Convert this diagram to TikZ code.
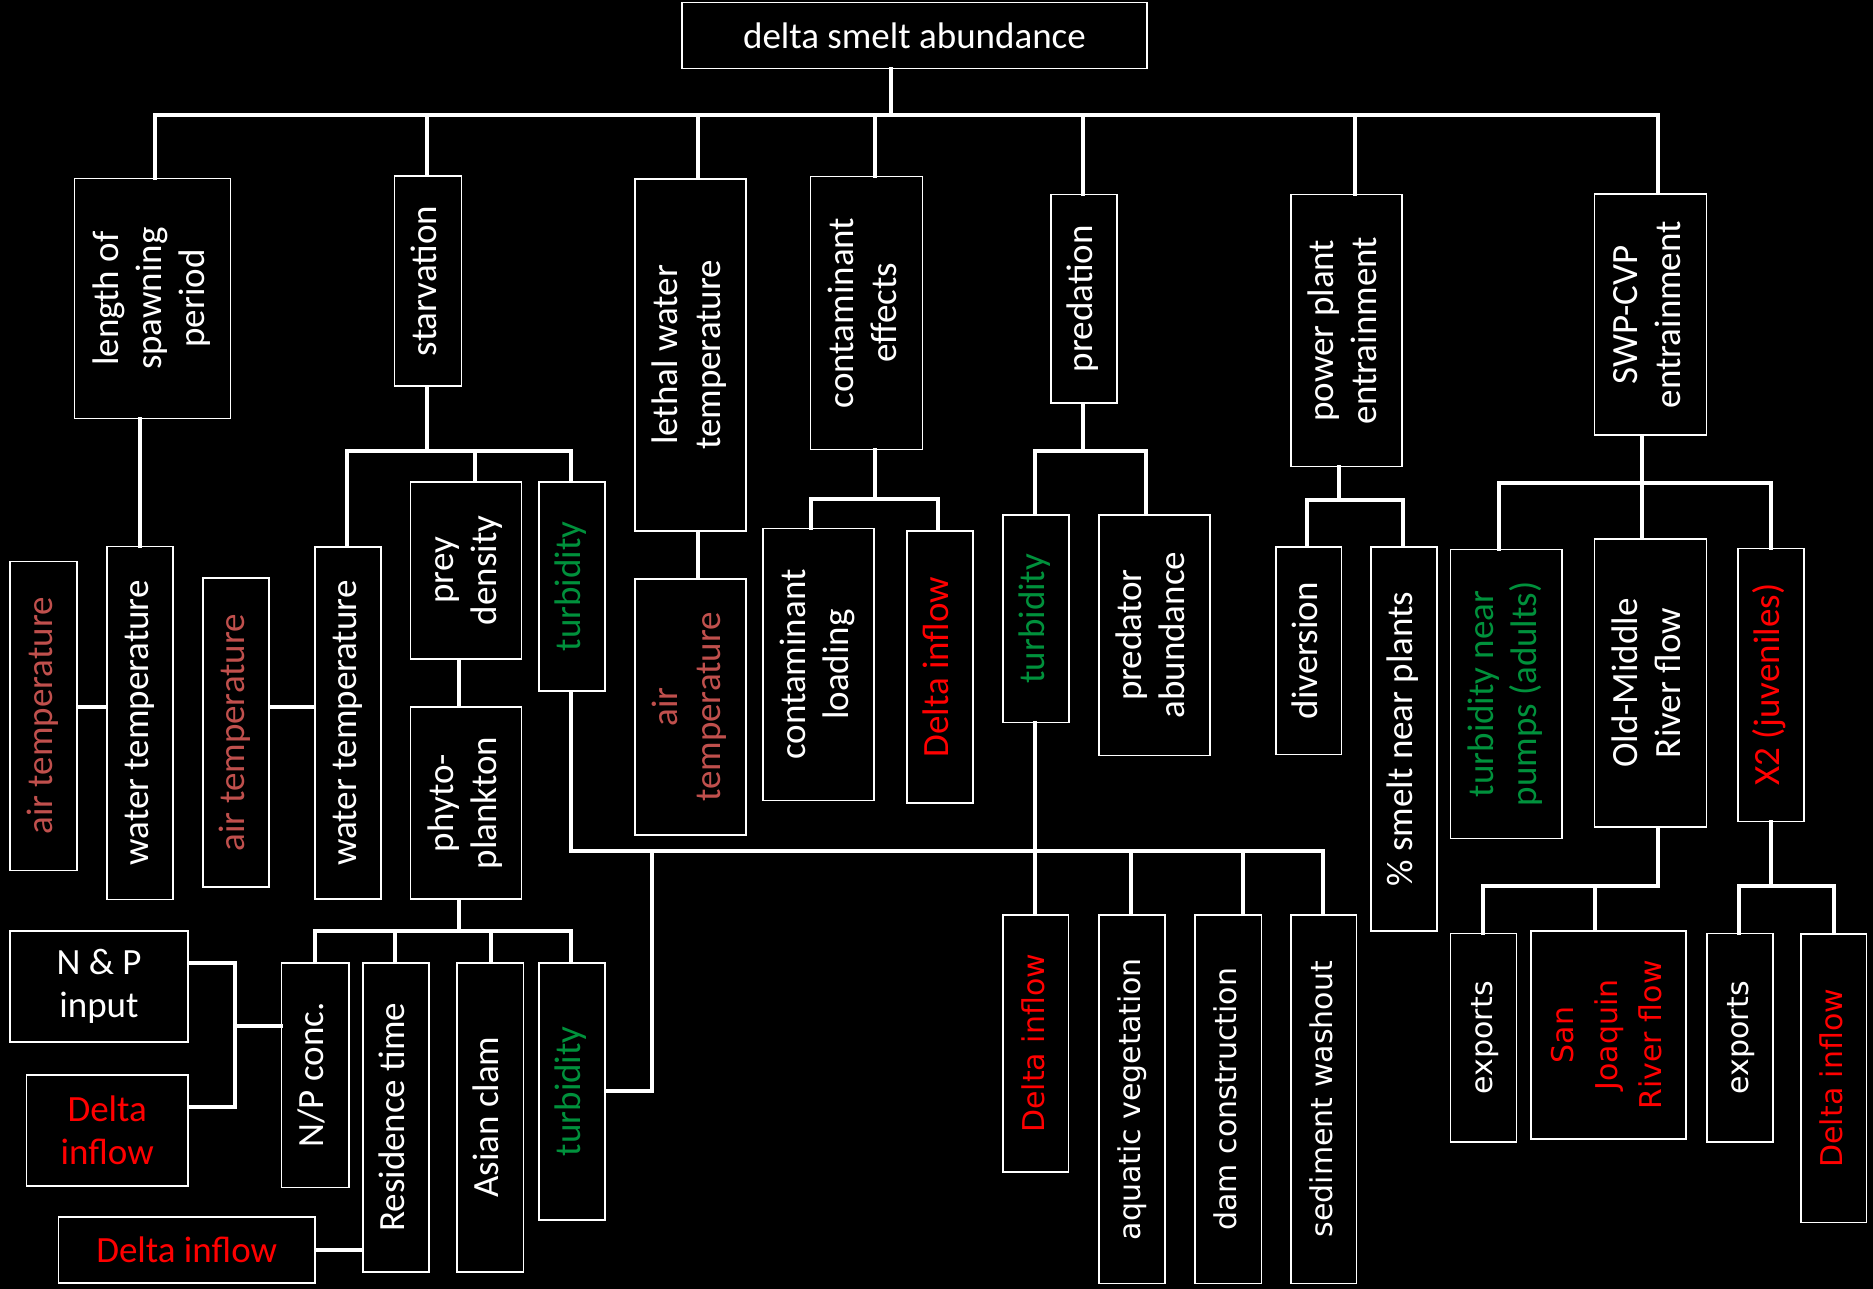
\documentclass[tikz,border=0pt]{standalone}
\usepackage{fontspec}
\usepackage{graphicx}
\setmainfont{Carlito}
\newfontfamily\dvsans{DejaVu Sans}
\definecolor{airred}{RGB}{192,80,77}
\definecolor{turbgreen}{RGB}{0,145,60}
\definecolor{flowred}{RGB}{255,0,0}
\newcommand{\vtext}[1]{\rotatebox{90}{\begin{tabular}{@{}c@{}}#1\end{tabular}}}
\tikzset{
  box/.style={draw=white, line width=1.6pt, fill=black, text=white, inner sep=0pt, align=center, font=\fontsize{37}{43}\selectfont},
  wide/.style={box, font=\dvsans\fontsize{30}{44}\selectfont},
  conn/.style={draw=white, line width=4pt, line cap=rect},
  air/.style={text=airred},
  turb/.style={text=turbgreen},
  flow/.style={text=flowred}
}
\begin{document}
\begin{tikzpicture}[x=1pt, y=-1pt]
\fill[black] (0,0) rectangle (1873,1289);

% top and first level
\node[box, minimum width=465pt, minimum height=66pt] (top) at (914.5,35.5) {delta smelt abundance};
\node[box, minimum width=156pt, minimum height=240pt] (len) at (152.5,298.6) {\vtext{length of\\spawning\\period}};
\node[box, minimum width=67pt, minimum height=210pt] (starv) at (427.8,281) {\vtext{starvation}};
\node[box, minimum width=111pt, minimum height=352pt] (lethal) at (690.4,354.9) {\vtext{lethal water\\temperature}};
\node[box, minimum width=112pt, minimum height=273pt] (contam) at (866.5,312.9) {\vtext{contaminant\\effects}};
\node[box, minimum width=66pt, minimum height=208.5pt] (pred) at (1084,298.7) {\vtext{predation}};
\node[box, minimum width=111pt, minimum height=272pt] (power) at (1346.2,330.6) {\vtext{power plant\\entrainment}};
\node[box, minimum width=112pt, minimum height=241pt] (swp) at (1650.3,314.7) {\vtext{SWP-CVP\\entrainment}};

% spawning and starvation
\node[box, minimum width=66pt, minimum height=353pt] (wt1) at (140,722.8) {\vtext{water temperature}};
\node[box, air, minimum width=67pt, minimum height=309pt] (at1) at (43.7,715.8) {\vtext{air temperature}};
\node[box, air, minimum width=66pt, minimum height=309pt] (at2) at (236,732.7) {\vtext{air temperature}};
\node[box, minimum width=66.5pt, minimum height=352pt] (wt2) at (348,723) {\vtext{water temperature}};
\node[box, minimum width=111pt, minimum height=177pt] (prey) at (466.1,570.4) {\vtext{prey\\density}};
\node[box, minimum width=111pt, minimum height=192pt] (phyto) at (466.1,803) {\vtext{phyto-\\plankton}};
\node[box, turb, minimum width=66.5pt, minimum height=208.5pt] (turb1) at (572,586.5) {\vtext{turbidity}};

% nutrients
\node[box, minimum width=177.6pt, minimum height=111.3pt] (np) at (99,986.4) {N \& P\\input};
\node[box, flow, minimum width=161.3pt, minimum height=111.3pt] (dinL) at (107.2,1130.4) {Delta\\inflow};
\node[box, flow, minimum width=256.6pt, minimum height=66pt] (dinB) at (186.7,1249.7) {Delta inflow};
\node[box, minimum width=67.4pt, minimum height=224.6pt] (npc) at (315.3,1075) {\vtext{N/P conc.}};
\node[box, minimum width=66pt, minimum height=309pt] (rest) at (396,1117.2) {\vtext{Residence time}};
\node[box, minimum width=66.6pt, minimum height=309pt] (clam) at (490,1117.2) {\vtext{Asian clam}};
\node[box, turb, minimum width=66.5pt, minimum height=257pt] (turb3) at (572,1091.2) {\vtext{turbidity}};

% lethal, contaminant, predation
\node[box, air, minimum width=111pt, minimum height=256pt] (airL) at (690.4,706.9) {\vtext{air\\temperature}};
\node[box, minimum width=111pt, minimum height=272pt] (cload) at (818.4,664.6) {\vtext{contaminant\\loading}};
\node[box, flow, minimum width=66.5pt, minimum height=272pt] (dinC) at (940,667.1) {\vtext{Delta inflow}};
\node[box, turb, minimum width=66.5pt, minimum height=207.5pt] (turb2) at (1036,618.7) {\vtext{turbidity}};
\node[box, minimum width=111pt, minimum height=240.6pt] (predab) at (1154.4,635.2) {\vtext{predator\\abundance}};
\node[wide, flow, minimum width=65.5pt, minimum height=256.7pt] (dinP) at (1035.8,1043.4) {\vtext{Delta inflow}};
\node[wide, minimum width=66pt, minimum height=368.3pt] (aqv) at (1131.9,1099.2) {\vtext{aquatic vegetation}};
\node[wide, minimum width=66.6pt, minimum height=368.3pt] (dam) at (1228,1099.2) {\vtext{dam construction}};
\node[wide, minimum width=65.5pt, minimum height=368.3pt] (sed) at (1323.8,1099.2) {\vtext{sediment washout}};

% entrainment
\node[box, minimum width=65.6pt, minimum height=207.6pt] (div) at (1308.5,650.8) {\vtext{diversion}};
\node[box, minimum width=66pt, minimum height=384pt] (psmelt) at (1403.9,739) {\vtext{\% smelt near plants}};
\node[box, turb, minimum width=111.5pt, minimum height=289pt] (turbp) at (1506.4,693.8) {\vtext{turbidity near\\pumps (adults)}};
\node[box, minimum width=112pt, minimum height=288pt] (omr) at (1650.3,683) {\vtext{Old-Middle\\River flow}};
\node[box, flow, minimum width=66pt, minimum height=273pt] (xjuv) at (1771.1,684.8) {\vtext{X2 (juveniles)}};
\node[wide, minimum width=66pt, minimum height=208.7pt] (exp1) at (1483.6,1037.7) {\vtext{exports}};
\node[wide, flow, minimum width=155.3pt, minimum height=208.3pt] (sjr) at (1608.6,1034.9) {\vtext{San\\Joaquin\\River flow}};
\node[wide, minimum width=66pt, minimum height=208.7pt] (exp2) at (1740,1037.7) {\vtext{exports}};
\node[wide, flow, minimum width=65.4pt, minimum height=288.3pt] (dinR) at (1833.7,1078.2) {\vtext{Delta inflow}};

% main bar
\coordinate (b0) at (891,115);
\coordinate (b1) at (155,115);
\coordinate (b2) at (426.5,115);
\coordinate (b3) at (698,115);
\coordinate (b4) at (874.6,115);
\coordinate (b5) at (1083,115);
\coordinate (b6) at (1354.5,115);
\coordinate (b7) at (1658,115);
\draw[conn] (top.south -| b0) -- (b0);
\draw[conn] (b1) -- (b7);
\draw[conn] (b1) -- (b1 |- len.north);
\draw[conn] (b2) -- (b2 |- starv.north);
\draw[conn] (b3) -- (b3 |- lethal.north);
\draw[conn] (b4) -- (b4 |- contam.north);
\draw[conn] (b5) -- (b5 |- pred.north);
\draw[conn] (b6) -- (b6 |- power.north);
\draw[conn] (b7) -- (b7 |- swp.north);

% spawning period
\coordinate (a1) at (0,707);
\draw[conn] (len.south -| wt1) -- (wt1.north);
\draw[conn] (at1.east |- a1) -- (wt1.west |- a1);
\draw[conn] (at2.east |- a1) -- (wt2.west |- a1);

% starvation
\coordinate (s0) at (426.5,451);
\coordinate (s1) at (347,451);
\coordinate (s2) at (474.7,451);
\coordinate (s3) at (570.6,451);
\draw[conn] (starv.south -| s0) -- (s0);
\draw[conn] (s1) -- (s3);
\draw[conn] (s1) -- (s1 |- wt2.north);
\draw[conn] (s2) -- (s2 |- prey.north);
\draw[conn] (s3) -- (s3 |- turb1.north);

% phytoplankton
\coordinate (p0) at (458.8,931);
\coordinate (p1) at (315,931);
\coordinate (p2) at (394.7,931);
\coordinate (p3) at (490.6,931);
\coordinate (p4) at (570.6,931);
\draw[conn] (prey.south -| p0) -- (phyto.north -| p0);
\draw[conn] (phyto.south -| p0) -- (p0);
\draw[conn] (p1) -- (p4);
\draw[conn] (p1) -- (p1 |- npc.north);
\draw[conn] (p2) -- (p2 |- rest.north);
\draw[conn] (p3) -- (p3 |- clam.north);
\draw[conn] (p4) -- (p4 |- turb3.north);

% nutrients
\coordinate (n0) at (234.7,1026);
\coordinate (n1) at (234.7,962.7);
\coordinate (n2) at (234.7,1106.7);
\coordinate (r1) at (0,1250);
\draw[conn] (np.east |- n1) -- (n1) -- (n2) -- (dinL.east |- n2);
\draw[conn] (n0) -- (npc.west |- n0);
\draw[conn] (dinB.east |- r1) -- (rest.west |- r1);

% turbidity bar
\coordinate (m0) at (570.6,851);
\coordinate (m1) at (652,851);
\coordinate (m2) at (1035.2,851);
\coordinate (m3) at (1131,851);
\coordinate (m4) at (1243,851);
\coordinate (m5) at (1322.6,851);
\draw[conn] (turb1.south -| m0) -- (m0) -- (m5);
\draw[conn] (m1) |- (turb3.east);
\draw[conn] (turb2.south -| m2) -- (dinP.north -| m2);
\draw[conn] (m3) -- (m3 |- aqv.north);
\draw[conn] (m4) -- (m4 |- dam.north);
\draw[conn] (m5) -- (m5 |- sed.north);

% lethal water temperature
\draw[conn] (lethal.south -| b3) -- (airL.north -| b3);

% contaminant effects
\coordinate (c0) at (874.6,498.8);
\coordinate (c1) at (810.7,498.8);
\coordinate (c2) at (938.4,498.8);
\draw[conn] (contam.south -| c0) -- (c0);
\draw[conn] (c1) -- (c2);
\draw[conn] (c1) -- (c1 |- cload.north);
\draw[conn] (c2) -- (c2 |- dinC.north);

% predation
\coordinate (d0) at (1083,450.6);
\coordinate (d1) at (1035.3,450.6);
\coordinate (d2) at (1146.4,450.6);
\draw[conn] (pred.south -| d0) -- (d0);
\draw[conn] (d1) -- (d2);
\draw[conn] (d1) -- (d1 |- turb2.north);
\draw[conn] (d2) -- (d2 |- predab.north);

% power plant
\coordinate (w0) at (1338.6,499.8);
\coordinate (w1) at (1306.5,499.8);
\coordinate (w2) at (1403,499.8);
\draw[conn] (power.south -| w0) -- (w0);
\draw[conn] (w1) -- (w2);
\draw[conn] (w1) -- (w1 |- div.north);
\draw[conn] (w2) -- (w2 |- psmelt.north);

% SWP-CVP
\coordinate (v0) at (1642.3,482.8);
\coordinate (v1) at (1498.6,482.8);
\coordinate (v2) at (1770.5,482.8);
\draw[conn] (swp.south -| v0) -- (v0);
\draw[conn] (v1) -- (v2);
\draw[conn] (v1) -- (v1 |- turbp.north);
\draw[conn] (v0) -- (v0 |- omr.north);
\draw[conn] (v2) -- (v2 |- xjuv.north);

% Old-Middle River flow
\coordinate (o0) at (1658.2,885.7);
\coordinate (o1) at (1483.3,885.7);
\coordinate (o2) at (1594.5,885.7);
\draw[conn] (omr.south -| o0) -- (o0);
\draw[conn] (o1) -- (o0);
\draw[conn] (o1) -- (o1 |- exp1.north);
\draw[conn] (o2) -- (o2 |- sjr.north);

% X2
\coordinate (k0) at (1771,885.7);
\coordinate (k1) at (1738.5,885.7);
\coordinate (k2) at (1834.3,885.7);
\draw[conn] (xjuv.south -| k0) -- (k0);
\draw[conn] (k1) -- (k2);
\draw[conn] (k1) -- (k1 |- exp2.north);
\draw[conn] (k2) -- (k2 |- dinR.north);
\end{tikzpicture}
\end{document}
